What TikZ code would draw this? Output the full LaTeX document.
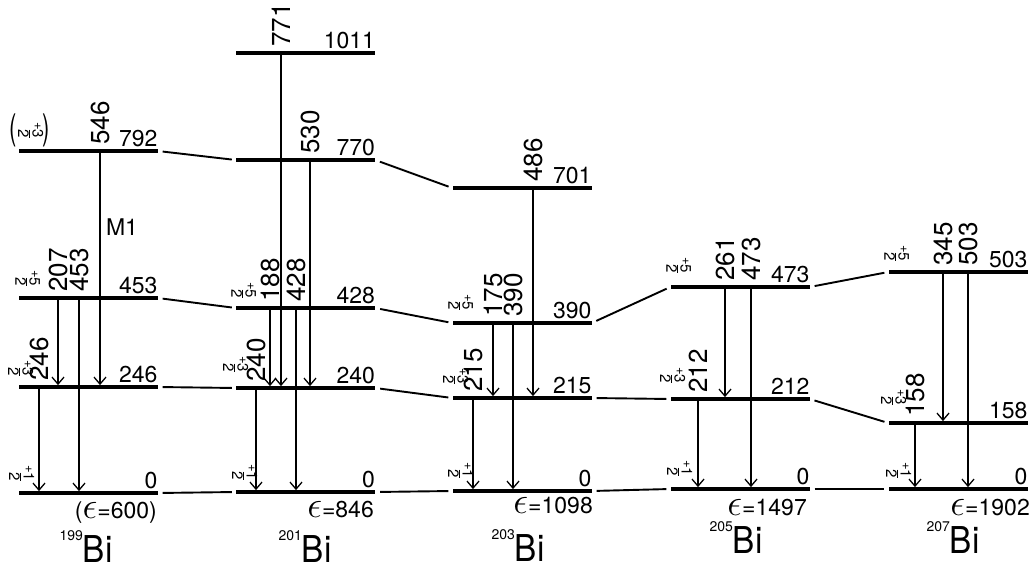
\documentclass[tikz,border=0pt]{standalone}
\usepackage{fontspec}
\setmainfont{TeX Gyre Heros}
\usetikzlibrary{arrows.meta}

\tikzset{
  level/.style={fill, minimum width=139pt, minimum height=3.4pt, inner sep=0pt},
  gam/.style={line width=1.3pt, -{Straight Barb[length=7pt,width=12pt]}},
  link/.style={line width=1.9pt, shorten <=5pt, shorten >=4pt},
  elab/.style={anchor=south east, inner xsep=0pt, inner ysep=2pt, font=\fontsize{23}{23}\selectfont},
  glab/.style={rotate=90, anchor=west, inner sep=4pt, font=\fontsize{26}{26}\selectfont},
  spin/.style={rotate=-90, inner sep=0pt, font=\fontsize{15}{15}\selectfont},
  eps/.style={anchor=base east, inner sep=0pt, font=\fontsize{23}{23}\selectfont},
  iso/.style={anchor=base, inner sep=0pt}
}
\newcommand\jpi[1]{\raisebox{9pt}{\fontsize{13}{13}\selectfont +}\renewcommand\arraystretch{0.75}\begin{tabular}{@{}c@{}}#1\\\hline 2\end{tabular}}
\newcommand\epsi{\scalebox{1.5}{$\epsilon$}}
\newcommand\isot[1]{\raisebox{22pt}{\fontsize{14}{14}\selectfont #1}\scalebox{0.9}[1]{\fontsize{37}{37}\selectfont Bi}}

\begin{document}
\begin{tikzpicture}[x=1pt, y=-1pt]
  \useasboundingbox (0,0) rectangle (1032,569);

  % levels
  \node[level] (a792) at (88,151) {};
  \node[level] (a453) at (88,298) {};
  \node[level] (a246) at (88,387) {};
  \node[level] (a0) at (88,493) {};

  \node[level] (b1011) at (305.5,53) {};
  \node[level] (b770) at (305.5,160) {};
  \node[level] (b428) at (305.5,308) {};
  \node[level] (b240) at (305.5,388) {};
  \node[level] (b0) at (305.5,492) {};

  \node[level] (c701) at (522,188) {};
  \node[level] (c390) at (522,323) {};
  \node[level] (c215) at (522,398) {};
  \node[level] (c0) at (522,491) {};

  \node[level] (d473) at (740,287) {};
  \node[level] (d212) at (740,399) {};
  \node[level] (d0) at (740,489) {};

  \node[level] (e503) at (958,272) {};
  \node[level] (e158) at (958,423) {};
  \node[level] (e0) at (958,489) {};

  % level energies
  \foreach \l/\t in {a792/792, a453/453, a246/246, a0/0,
                     b1011/1011, b770/770, b428/428, b240/240, b0/0,
                     c701/701, c390/390, c215/215, c0/0,
                     d473/473, d212/212, d0/0,
                     e503/503, e158/158, e0/0}
    \node[elab] at (\l.north east) {\t};

  % spins
  \node[spin] (s792) at (29,130) {\jpi{3}};
  \node[font=\fontsize{22}{22}\selectfont, inner sep=0pt] (pl) at (13,130) {\scalebox{1}[1.6]{(}};
  \node[font=\fontsize{22}{22}\selectfont, inner sep=0pt] (pr) at (46,130) {\scalebox{1}[1.6]{)}};
  \node[spin] at (26,278) {\jpi{5}};
  \node[spin] at (19,368) {\jpi{3}};
  \node[spin] at (20,473) {\jpi{1}};
  \node[spin] at (242,290) {\jpi{5}};
  \node[spin] at (234,364) {\jpi{3}};
  \node[spin] at (243,472) {\jpi{1}};
  \node[spin] at (459,302) {\jpi{5}};
  \node[spin] at (454,376) {\jpi{3}};
  \node[spin] at (459,470) {\jpi{1}};
  \node[spin] at (677,265) {\jpi{5}};
  \node[spin] at (671,375) {\jpi{3}};
  \node[spin] at (678,468) {\jpi{1}};
  \node[spin] at (895,253) {\jpi{5}};
  \node[spin] at (892,397) {\jpi{3}};
  \node[spin] at (897,470) {\jpi{1}};

  % gamma transitions
  \foreach \x/\u/\v/\t in {100/a792/a246/546, 58/a453/a246/207, 79/a453/a0/453, 39/a246/a0/246,
                           281/b1011/b240/771, 310/b770/b240/530, 270/b428/b240/188,
                           296/b428/b0/428, 256/b240/b0/240,
                           533/c701/c215/486, 493/c390/c215/175, 513/c390/c0/390, 473/c215/c0/215,
                           725/d473/d212/261, 751/d473/d0/473, 698/d212/d0/212,
                           943/e503/e158/345, 968/e503/e0/503, 915/e158/e0/158} {
    \draw[gam] (\x,0 |- \u.south) -- (\x,0 |- \v.north);
    \node[glab] at (\x,0 |- \u.north) {\t};
  }
  \node[font=\fontsize{23}{23}\selectfont] (m1) at (122,227) {M1};

  % links between isotopes
  \draw[link] (a792.east) -- (b770.west);
  \draw[link] (a453.east) -- (b428.west);
  \draw[link] (a246.east) -- (b240.west);
  \draw[link] (a0.east) -- (b0.west);
  \draw[link] (b770.east) -- (c701.west);
  \draw[link] (b428.east) -- (c390.west);
  \draw[link] (b240.east) -- (c215.west);
  \draw[link] (b0.east) -- (c0.west);
  \draw[link] (c390.east) -- (d473.west);
  \draw[link] (c215.east) -- (d212.west);
  \draw[link] (c0.east) -- (d0.west);
  \draw[link] (d473.east) -- (e503.west);
  \draw[link] (d212.east) -- (e158.west);
  \draw[link] (d0.east) -- (e0.west);

  % pairing energies
  \node[eps] (epsa) at (157,518) {(\epsi=600)};
  \node[eps] (epsb) at (374,517) {\epsi=846};
  \node[eps] (epsc) at (593,513) {\epsi=1098};
  \node[eps] (epsd) at (807,515) {\epsi=1497};
  \node[eps] (epse) at (1030,515) {\epsi=1902};

  % isotopes
  \node[iso] (bi199) at (86,562) {\isot{199}};
  \node[iso] (bi201) at (305,562) {\isot{201}};
  \node[iso] (bi203) at (518,561) {\isot{203}};
  \node[iso] (bi205) at (736,553) {\isot{205}};
  \node[iso] (bi207) at (953,553) {\isot{207}};
\end{tikzpicture}
\end{document}
